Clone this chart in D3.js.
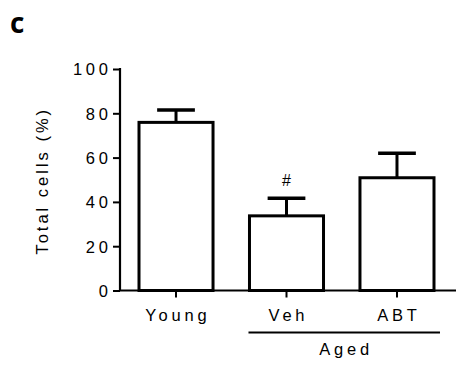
<!DOCTYPE html>
<html>
<head>
<meta charset="utf-8">
<script src="https://cdn.jsdelivr.net/npm/d3@7"></script>
<style>
  html, body { margin: 0; padding: 0; background: #fff; }
  svg { display: block; }
  text { font-family: "Liberation Sans", Arial, sans-serif; fill: #000; }
</style>
</head>
<body>
<svg id="chart" width="476" height="366"></svg>
<script>
// Total cells (%) per group, mean with upper SEM
const groups = ["Young", "Veh", "ABT"];
const means = [75.9, 33.7, 50.9];
const errors = [5.6, 8.0, 11.1];
const yTicks = [0, 20, 40, 60, 80, 100];
const markers = ["", "#", ""];
const subgroupLabel = "Aged";
const subgroupMembers = ["Veh", "ABT"];

const svg = d3.select("#chart");

const x = d3.scaleBand()
  .domain(groups)
  .range([120, 453])
  .paddingInner(0.33)
  .paddingOuter(0.172);

const y = d3.scaleLinear()
  .domain([0, 100])
  .range([290.5, 69]);

const FS = 16.5; // axis text size
const LS = 3.8;  // letter spacing used by the axis text

// panel letter
svg.append("text")
  .attr("x", 10).attr("y", 33)
  .style("font-family", "'Open Sans', sans-serif")
  .style("font-weight", "700")
  .style("font-size", "28px")
  .text("c");

// y axis
const yAxis = svg.append("g")
  .attr("transform", "translate(120,0)")
  .call(d3.axisLeft(y).tickValues(yTicks).tickSize(7).tickPadding(5));
yAxis.select(".domain").remove();
yAxis.selectAll(".tick line").attr("stroke", "#000").attr("stroke-width", 2);
yAxis.selectAll(".tick text")
  .style("font-size", FS + "px")
  .style("letter-spacing", LS + "px")
  .attr("dx", LS)
  .attr("dy", "0.36em");
svg.append("line")
  .attr("x1", 120).attr("x2", 120)
  .attr("y1", y(100) - 1).attr("y2", y(0))
  .attr("stroke", "#000").attr("stroke-width", 2.2);

// y axis title
svg.append("text")
  .attr("transform", `translate(48,${(y(0) + y(100)) / 2 + 1}) rotate(-90)`)
  .attr("text-anchor", "middle")
  .style("font-size", "16.5px")
  .style("letter-spacing", "3px")
  .text("Total cells (%)");

// error bars (upper only)
const err = svg.append("g");
groups.forEach((g, i) => {
  const cx = x(g) + x.bandwidth() / 2;
  const capW = x.bandwidth() * 0.51;
  err.append("line")
    .attr("x1", cx).attr("x2", cx)
    .attr("y1", y(means[i])).attr("y2", y(means[i] + errors[i]))
    .attr("stroke", "#000").attr("stroke-width", 3);
  err.append("line")
    .attr("x1", cx - capW / 2).attr("x2", cx + capW / 2)
    .attr("y1", y(means[i] + errors[i])).attr("y2", y(means[i] + errors[i]))
    .attr("stroke", "#000").attr("stroke-width", 3.5);
});

// bars
svg.append("g").selectAll("rect")
  .data(groups)
  .join("rect")
  .attr("x", d => x(d))
  .attr("y", (d, i) => y(means[i]))
  .attr("width", x.bandwidth())
  .attr("height", (d, i) => y(0) - y(means[i]))
  .attr("fill", "#fff")
  .attr("stroke", "#000")
  .attr("stroke-width", 3);

// x axis
svg.append("line")
  .attr("x1", 119).attr("x2", 456)
  .attr("y1", y(0)).attr("y2", y(0))
  .attr("stroke", "#000").attr("stroke-width", 2.2);
const xAxis = svg.append("g")
  .attr("transform", `translate(0,${y(0)})`)
  .call(d3.axisBottom(x).tickSize(7).tickPadding(12));
xAxis.select(".domain").remove();
xAxis.selectAll(".tick line").attr("stroke", "#000").attr("stroke-width", 2);
xAxis.selectAll(".tick text")
  .style("font-size", FS + "px")
  .style("letter-spacing", LS + "px")
  .attr("dx", LS / 2);

// significance markers
svg.append("g").selectAll("text")
  .data(groups)
  .join("text")
  .attr("x", d => x(d) + x.bandwidth() / 2)
  .attr("y", (d, i) => y(means[i] + errors[i]) - 12)
  .attr("text-anchor", "middle")
  .style("font-size", "16px")
  .text((d, i) => markers[i]);

// subgroup bracket
const x0 = x(subgroupMembers[0]) - 1;
const x1 = x(subgroupMembers[subgroupMembers.length - 1]) + x.bandwidth() + 6;
svg.append("line")
  .attr("x1", x0).attr("x2", x1)
  .attr("y1", 332.5).attr("y2", 332.5)
  .attr("stroke", "#000").attr("stroke-width", 2);
svg.append("text")
  .attr("x", (x0 + x1) / 2 + LS / 2)
  .attr("y", 355)
  .attr("text-anchor", "middle")
  .style("font-size", FS + "px")
  .style("letter-spacing", LS + "px")
  .text(subgroupLabel);
</script>
</body>
</html>
